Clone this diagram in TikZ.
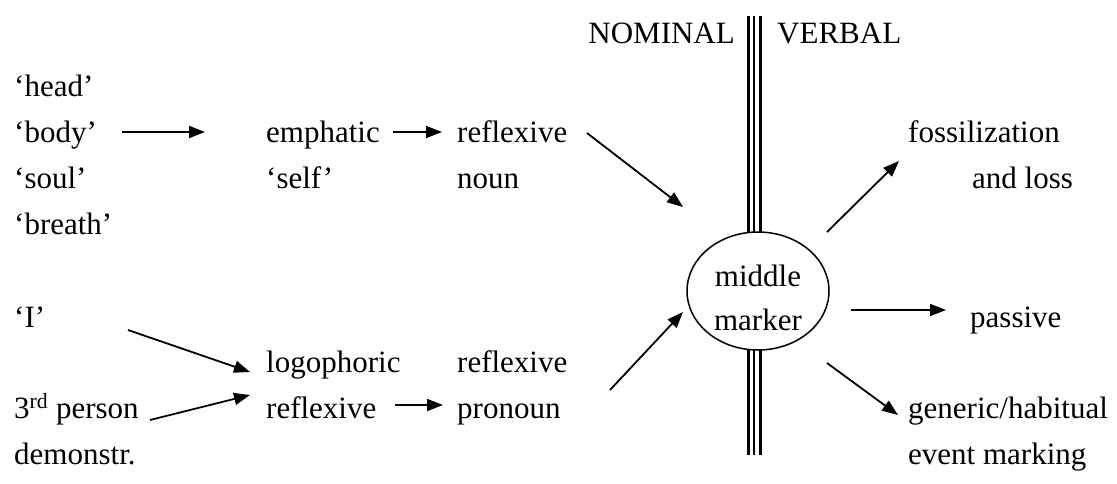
\documentclass[tikz,border=0pt]{standalone}
\usepackage{fontspec}
\setmainfont{Liberation Serif}
\usetikzlibrary{arrows.meta,shapes.geometric}
\begin{document}
\begin{tikzpicture}[x=1pt,y=-1pt,
  lbl/.style={anchor=west,inner sep=0pt,text height=22pt,text depth=6pt,font=\fontsize{31}{37}\selectfont},
  arr/.style={line width=1.8pt,-{Triangle[length=16pt,width=12pt]}},
  bar/.style={line width=2.7pt},
  mmshape/.style={draw,ellipse,line width=1.5pt,fill=white,minimum width=142pt,minimum height=118pt,inner sep=0pt}]
\useasboundingbox (0,0) rectangle (1117,483);
% divider
\draw[bar] (748.7,16) -- (748.7,455);
\draw[bar] (754,16) -- (754,455);
\draw[bar] (760.7,16) -- (760.7,455);
\node[mmshape] (mm) at (758,291) {};
\node[lbl,anchor=center] (mmtop) at (758,278) {middle};
\node[lbl,anchor=center] (mmbot) at (758,322) {marker};
% header
\node[lbl,anchor=east] (nominal) at (735,35) {NOMINAL};
\node[lbl] (verbal) at (777,35) {VERBAL};
% left column
\node[lbl] (head) at (14,88) {‘head’};
\node[lbl] (body) at (14,134) {‘body’};
\node[lbl] (soul) at (14,180) {‘soul’};
\node[lbl] (breath) at (14,226) {‘breath’};
\node[lbl] (I) at (14,319) {‘I’};
\node[lbl] (third) at (14,410) {3\textsuperscript{rd} person};
\node[lbl] (demo) at (14,456) {demonstr.};
% middle columns
\node[lbl] (emph) at (266,134) {emphatic};
\node[lbl] (self) at (266,180) {‘self’};
\node[lbl] (refl1) at (457,134) {reflexive};
\node[lbl] (noun) at (457,180) {noun};
\node[lbl] (logo) at (266,364) {logophoric};
\node[lbl] (refl2) at (266,410) {reflexive};
\node[lbl] (refl3) at (457,364) {reflexive};
\node[lbl] (pron) at (457,410) {pronoun};
% right column
\node[lbl] (foss) at (908,134) {fossilization};
\node[lbl] (loss) at (972,180) {and loss};
\node[lbl] (passive) at (970,319) {passive};
\node[lbl] (generic) at (908,410) {generic/habitual};
\node[lbl] (event) at (908,456) {event marking};
% arrow ends
\coordinate (a1s) at (122,132); \coordinate (a1e) at (205,132);
\coordinate (a2s) at (393,132); \coordinate (a2e) at (442,132);
\coordinate (a3s) at (587,133); \coordinate (a3e) at (683,207);
\coordinate (a4s) at (128,330); \coordinate (a4e) at (250,372);
\coordinate (a5s) at (150,420); \coordinate (a5e) at (250,395);
\coordinate (a6s) at (395,405); \coordinate (a6e) at (443,405);
\coordinate (a7s) at (610,390); \coordinate (a7e) at (683,312);
\coordinate (a8s) at (827,232); \coordinate (a8e) at (899,161);
\coordinate (a9s) at (851,310); \coordinate (a9e) at (946,310);
\coordinate (a10s) at (827,363); \coordinate (a10e) at (898,415);
\draw[arr] (a1s) -- (a1e);
\draw[arr] (a2s) -- (a2e);
\draw[arr] (a3s) -- (a3e);
\draw[arr] (a4s) -- (a4e);
\draw[arr] (a5s) -- (a5e);
\draw[arr] (a6s) -- (a6e);
\draw[arr] (a7s) -- (a7e);
\draw[arr] (a8s) -- (a8e);
\draw[arr] (a9s) -- (a9e);
\draw[arr] (a10s) -- (a10e);
\end{tikzpicture}
\end{document}
